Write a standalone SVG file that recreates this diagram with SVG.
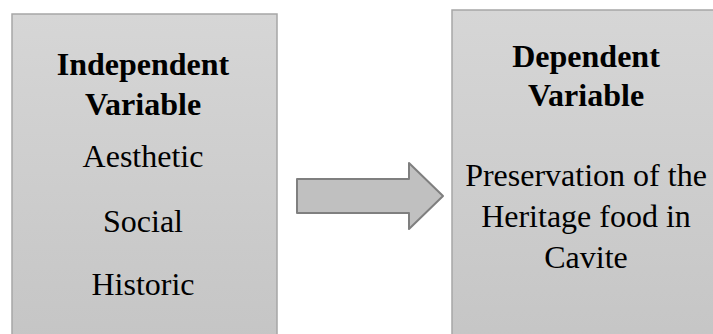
<svg xmlns="http://www.w3.org/2000/svg" width="713" height="334" viewBox="0 0 713 334">
<defs>
<linearGradient id="g" x1="0" y1="0" x2="0" y2="1">
<stop offset="0" stop-color="#d6d6d6"/>
<stop offset="1" stop-color="#c5c5c5"/>
</linearGradient>
</defs>
<style>
.box{fill:url(#g);stroke:#a6a6a6;stroke-width:1.5}
.t{font-family:"Liberation Serif","Times New Roman",serif;font-size:32px;fill:#000;text-anchor:middle}
.b{font-weight:bold}
.arrow{fill:#c0c0c0;stroke:#7f7f7f;stroke-width:2;stroke-linejoin:round}
</style>
<rect width="713" height="334" fill="#fff"/>
<g id="independent">
<rect class="box" x="12" y="14" width="265" height="330"/>
<text class="t b" x="143" y="75">Independent</text>
<text class="t b" x="143" y="115">Variable</text>
<text class="t" x="143" y="167">Aesthetic</text>
<text class="t" x="143" y="232">Social</text>
<text class="t" x="143" y="295">Historic</text>
</g>
<g id="dependent">
<rect class="box" x="452" y="10" width="280" height="340"/>
<text class="t b" x="586" y="67">Dependent</text>
<text class="t b" x="586" y="106">Variable</text>
<text class="t" x="586" y="186">Preservation of the</text>
<text class="t" x="586" y="227">Heritage food in</text>
<text class="t" x="586" y="268">Cavite</text>
</g>
<g id="connectors">
<path class="arrow" d="M297,179 L409,179 L409,163 L443,196 L409,229 L409,213 L297,213 Z"/>
</g>
</svg>
